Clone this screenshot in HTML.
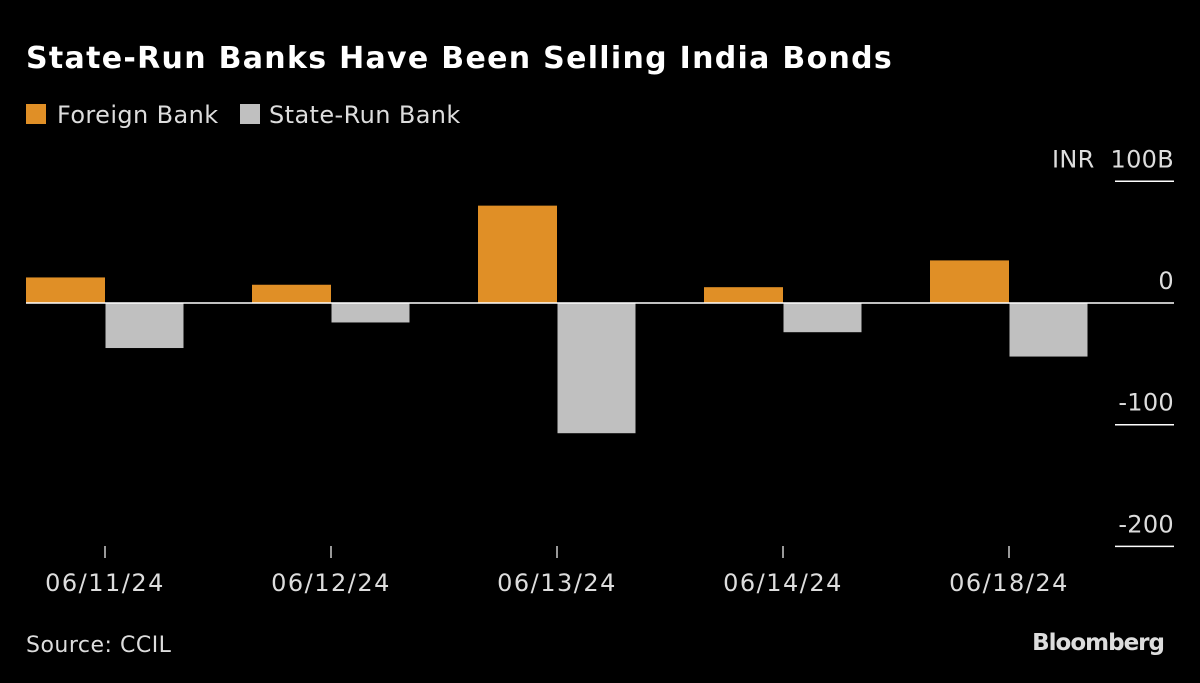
<!DOCTYPE html>
<html><head><meta charset="utf-8"><style>
body{margin:0;background:#000;width:1200px;height:683px;overflow:hidden;font-family:"DejaVu Sans","Liberation Sans",sans-serif;color:#fff}
svg{display:block}
</style></head><body>
<svg width="1200" height="683">
<text x="26" y="68" font-size="30" font-weight="bold" letter-spacing="1.3" fill="#fff">State-Run Banks Have Been Selling India Bonds</text>
<g>
<rect x="26" y="104" width="20" height="20" fill="#e08f26"/>
<text x="57" y="123" font-size="24" letter-spacing="0.4" fill="#ddd">Foreign Bank</text>
<rect x="240" y="104" width="20" height="20" fill="#c0c0c0"/>
<text x="269" y="123" font-size="24" letter-spacing="0.4" fill="#ddd">State-Run Bank</text>
</g>
<g id="plot"></g>
<text x="26" y="652" font-size="22" letter-spacing="0.5" fill="#ddd">Source: CCIL</text>
<text x="1164" y="650" font-size="23" font-weight="bold" fill="#ddd" text-anchor="end" letter-spacing="-1">Bloomberg</text>
</svg>
<script>
const categories=["06/11/24","06/12/24","06/13/24","06/14/24","06/18/24"];
const foreignValues=[21,15,80,13,35];
const stateValues=[-37,-16,-107,-24,-44];
const tickValues=[100,0,-100,-200];
const tickLabels=["INR  100B","0","-100","-200"];
const NS="http://www.w3.org/2000/svg";
const g=document.getElementById('plot');
const y=v=>303-v*1.217;
const x0=i=>26+i*226;
function mk(t,a){const e=document.createElementNS(NS,t);for(const k in a)e.setAttribute(k,a[k]);g.appendChild(e);return e;}
tickValues.forEach((v,i)=>{
  if(v!==0){const l=mk('line',{x1:1115,x2:1174,y1:y(v),y2:y(v),stroke:'#fff','stroke-width':1.5});
  
  }
  const t=mk('text',{x:1174,y:y(v)-14,'font-size':24,'letter-spacing':0.3,fill:'#ddd','text-anchor':'end'});
  t.style.whiteSpace='pre';
  t.textContent=tickLabels[i];
  
  
});
categories.forEach((c,i)=>{
  const fv=foreignValues[i],sv=stateValues[i];
  const b1=mk('rect',{x:x0(i),y:Math.min(y(fv),y(0)),width:79,height:Math.abs(y(fv)-y(0)),fill:'#e08f26'});
  
  
  const b2=mk('rect',{x:x0(i)+79.5,y:Math.min(y(sv),y(0)),width:78,height:Math.abs(y(sv)-y(0)),fill:'#c0c0c0'});
  
  
  const tk=mk('line',{x1:x0(i)+79,x2:x0(i)+79,y1:546,y2:558,stroke:'#ccc','stroke-width':1.5});
  
  
  const t=mk('text',{x:x0(i)+79,y:591,'font-size':24,'letter-spacing':1.5,fill:'#ddd','text-anchor':'middle'});
  t.textContent=c;
  
  
});
const z=mk('line',{x1:26,x2:1174,y1:y(0),y2:y(0),stroke:'#fff','stroke-width':1.5});


</script>
</body></html>
